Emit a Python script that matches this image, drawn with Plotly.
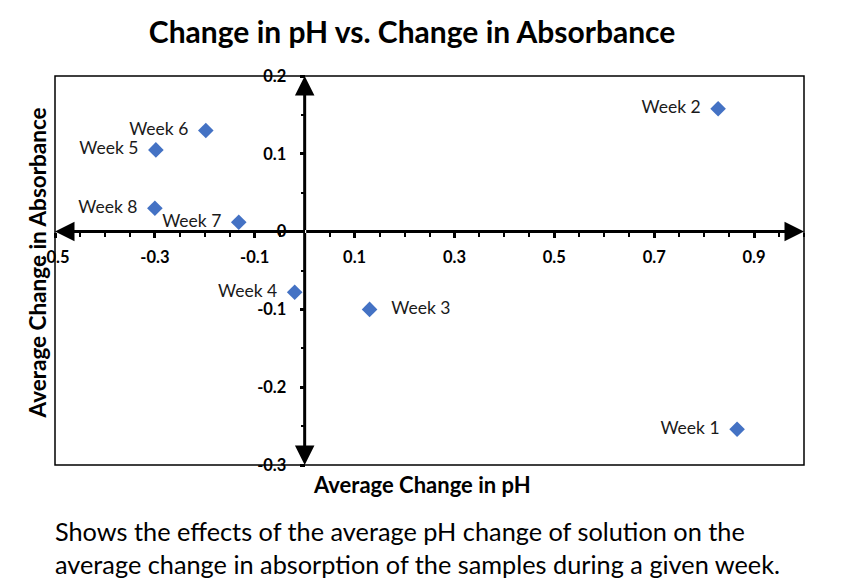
import plotly.graph_objects as go

weeks = ["Week 1", "Week 2", "Week 3", "Week 4", "Week 5", "Week 6", "Week 7", "Week 8"]
ph_change = [0.866, 0.828, 0.13, -0.02, -0.298, -0.198, -0.132, -0.30]
abs_change = [-0.254, 0.158, -0.10, -0.078, 0.105, 0.13, 0.012, 0.03]
label_pos = ["middle left", "middle left", "middle right", "middle left",
             "middle left", "middle left", "middle left", "middle left"]

x_ticks = [-0.5, -0.3, -0.1, 0.1, 0.3, 0.5, 0.7, 0.9]
y_ticks = [-0.3, -0.2, -0.1, 0, 0.1, 0.2]
x_range = [-0.5, 1.0]
y_range = [-0.3, 0.2]

FONT = "Lato, Open Sans, sans-serif"
NB = "\u00a0"
templates = [("%{text}" + NB * 2) if p == "middle left" else (NB * 3 + "%{text}") for p in label_pos]

fig = go.Figure()
fig.add_trace(go.Scatter(
    x=ph_change, y=abs_change, mode="markers+text",
    text=weeks, textposition=label_pos, texttemplate=templates,
    textfont=dict(family=FONT, size=17.5, color="#1a1a1a"),
    marker=dict(symbol="diamond", size=12, color="#4472C4"),
    cliponaxis=False, showlegend=False,
))

xpos = (0 - y_range[0]) / (y_range[1] - y_range[0])
ypos = (0 - x_range[0]) / (x_range[1] - x_range[0])

fig.update_layout(
    width=841, height=588,
    margin=dict(l=55, r=37, t=76, b=123),
    plot_bgcolor="white", paper_bgcolor="white",
    title=dict(text="<b>Change in pH vs. Change in Absorbance</b>", x=0.49, xanchor="center",
               y=0.945, yanchor="middle", font=dict(family=FONT, size=30, color="black")),
    xaxis=dict(range=x_range, showgrid=False, zeroline=False, showline=False,
               anchor="free", position=xpos,
               tickmode="array", tickvals=x_ticks, ticktext=[f"{v:g}" for v in x_ticks],
               ticks="outside", ticklen=5, tickwidth=3, tickcolor="black",
               ticklabelstandoff=6,
               tickfont=dict(family=FONT, size=16.5, color="black", weight="bold"),
               minor=dict(dtick=0.05, tick0=0, ticks="outside", ticklen=4, tickwidth=2, tickcolor="black")),
    yaxis=dict(range=y_range, showgrid=False, zeroline=False, showline=False,
               anchor="free", position=ypos,
               tickmode="array", tickvals=y_ticks, ticktext=[f"{v:g}" for v in y_ticks],
               ticks="outside", ticklen=5, tickwidth=3, tickcolor="black",
               ticklabelstandoff=10,
               tickfont=dict(family=FONT, size=16.5, color="black", weight="bold"),
               minor=dict(dtick=0.05, tick0=0, ticks="outside", ticklen=4, tickwidth=2, tickcolor="black")),
)

# plot area border
fig.add_shape(type="rect", xref="paper", yref="paper", x0=0, y0=0, x1=1, y1=1,
              line=dict(color="black", width=1.5))

# axis arrows through the origin
for (ex, ey) in [(x_range[1], 0), (x_range[0], 0), (0, y_range[1]), (0, y_range[0])]:
    fig.add_annotation(x=ex, y=ey, ax=0, ay=0, xref="x", yref="y", axref="x", ayref="y",
                       text="", showarrow=True, arrowhead=2, arrowsize=1.3,
                       arrowwidth=3, arrowcolor="black", standoff=0)

# axis titles
fig.add_annotation(text="<b>Average Change in pH</b>", xref="paper", yref="paper",
                   x=0.49, y=-0.05, xanchor="center", yanchor="middle", showarrow=False,
                   font=dict(family=FONT, size=22, color="black"))
fig.add_annotation(text="<b>Average Change in Absorbance</b>", xref="paper", yref="paper",
                   x=-0.023, y=0.52, xanchor="center", yanchor="middle", showarrow=False,
                   textangle=-90, font=dict(family=FONT, size=22.5, color="black"))

# caption
fig.add_annotation(text="Shows the effects of the average pH change of solution on the<br>"
                        "average change in absorption of the samples during a given week.",
                   xref="paper", yref="paper", x=-0.003, y=-0.125, xanchor="left", yanchor="top",
                   align="left", showarrow=False,
                   font=dict(family=FONT, size=25.3, color="black"))

fig.write_html("out.html")
